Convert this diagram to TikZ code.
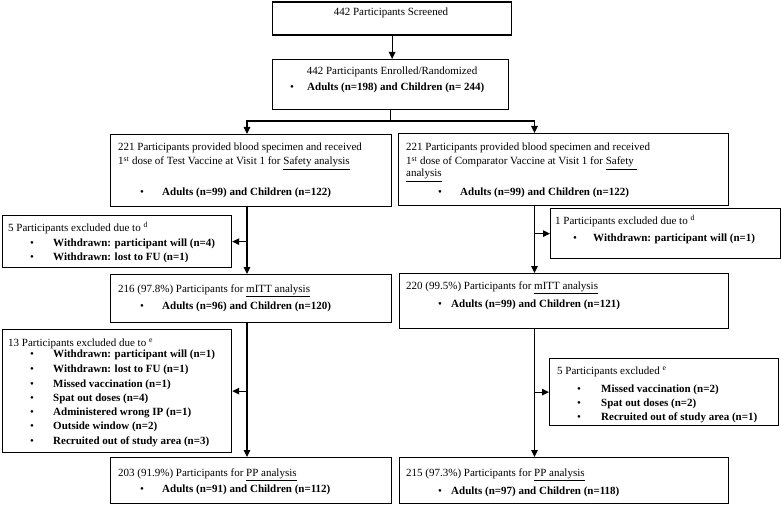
\documentclass[tikz,border=0pt]{standalone}
\usepackage{fontspec}
\setmainfont{Liberation Serif}
\usetikzlibrary{arrows.meta}
\newcommand\bu[2]{\makebox[#1][l]{\textbullet}\textbf{#2}}
\begin{document}
\begin{tikzpicture}[x=1pt,y=-1pt,
 box/.style={draw, line width=1.2pt, anchor=north west, inner sep=0pt},
 txt/.style={anchor=base west, inner sep=0pt, font=\fontsize{11}{13}\selectfont},
 ctxt/.style={txt, anchor=base},
 ln/.style={line width=1.2pt},
 arr/.style={line width=1.2pt, -{Triangle[length=7pt,width=6.5pt]}}]
\useasboundingbox (0,0) rectangle (781,505);
% top
\node[box,minimum width=239pt,minimum height=33pt] (b1) at (272,1.5) {};
\node[ctxt] (t1) at (391,16) {442 Participants Screened};
\node[box,minimum width=236pt,minimum height=50pt] (b2) at (272,59) {};
\node[ctxt] (t2a) at (392,75) {442 Participants Enrolled/Randomized};
\node[txt] (t2b) at (290,91) {\bu{17pt}{Adults (n=198) and Children (n= 244)}};
% left safety
\node[box,minimum width=281pt,minimum height=72pt] (b3) at (110,134) {};
\node[txt] (t3a) at (118,151) {221 Participants provided blood specimen and received};
\node[txt] (t3b) at (118,165) {1\textsuperscript{st} dose of Test Vaccine at Visit 1 for \underline{Safety analysis}};
\node[txt] (t3c) at (140,196) {\bu{22pt}{Adults (n=99) and Children (n=122)}};
% left exclusion 1
\node[box,minimum width=229pt,minimum height=52pt] (b4) at (2,215) {};
\node[txt] (t4a) at (8,231) {5 Participants excluded due to \textsuperscript{d}};
\node[txt] (t4b) at (30,246.5) {\bu{23pt}{Withdrawn: participant will (n=4)}};
\node[txt] (t4c) at (30,260.5) {\bu{23pt}{Withdrawn: lost to FU (n=1)}};
% right safety
\node[box,minimum width=330pt,minimum height=72pt] (b5) at (398,133) {};
\node[txt] (t5a) at (406,151) {221 Participants provided blood specimen and received};
\node[txt] (t5b) at (406,165) {1\textsuperscript{st} dose of Comparator Vaccine at Visit 1 for \underline{Safety\ }};
\node[txt] (t5c) at (406,177) {\underline{analysis}};
\node[txt] (t5d) at (438,195.5) {\bu{22pt}{Adults (n=99) and Children (n=122)}};
% right exclusion 1
\node[box,minimum width=230pt,minimum height=50pt] (b6) at (550,208) {};
\node[txt] (t6a) at (555,224) {1 Participants excluded due to \textsuperscript{d}};
\node[txt] (t6b) at (573,241) {\bu{20pt}{Withdrawn: participant will (n=1)}};
% left mITT
\node[box,minimum width=281pt,minimum height=48pt] (b7) at (110,274) {};
\node[txt] (t7a) at (118,292) {216 (97.8\%) Participants for \underline{mITT analysis}};
\node[txt] (t7b) at (140,309) {\bu{22pt}{Adults (n=96) and Children (n=120)}};
% left exclusion 2
\node[box,minimum width=229pt,minimum height=123pt] (b8) at (2,329) {};
\node[txt] (t8a) at (8,346) {13 Participants excluded due to \textsuperscript{e}};
\node[txt] (t8b) at (30,357) {\bu{23pt}{Withdrawn: participant will (n=1)}};
\node[txt] (t8c) at (30,372) {\bu{23pt}{Withdrawn: lost to FU (n=1)}};
\node[txt] (t8d) at (30,387) {\bu{23pt}{Missed vaccination (n=1)}};
\node[txt] (t8e) at (30,401.5) {\bu{23pt}{Spat out doses (n=4)}};
\node[txt] (t8f) at (30,415.5) {\bu{23pt}{Administered wrong IP (n=1)}};
\node[txt] (t8g) at (30,429.5) {\bu{23pt}{Outside window (n=2)}};
\node[txt] (t8h) at (30,444) {\bu{23pt}{Recruited out of study area (n=3)}};
% left PP
\node[box,minimum width=281pt,minimum height=46pt] (b9) at (110,457) {};
\node[txt] (t9a) at (118,476) {203 (91.9\%) Participants for \underline{PP analysis}};
\node[txt] (t9b) at (140,492) {\bu{22pt}{Adults (n=91) and Children (n=112)}};
% right mITT
\node[box,minimum width=329pt,minimum height=55pt] (b10) at (399,273) {};
\node[txt] (t10a) at (406,289) {220 (99.5\%) Participants for \underline{mITT analysis}};
\node[txt] (t10b) at (438,307) {\bu{13pt}{Adults (n=99) and Children (n=121)}};
% right exclusion 2
\node[box,minimum width=229pt,minimum height=67pt] (b11) at (549,358) {};
\node[txt] (t11a) at (557,374) {5 Participants excluded \textsuperscript{e}};
\node[txt] (t11b) at (577,392) {\bu{24pt}{Missed vaccination (n=2)}};
\node[txt] (t11c) at (577,406.5) {\bu{24pt}{Spat out doses (n=2)}};
\node[txt] (t11d) at (577,420.5) {\bu{24pt}{Recruited out of study area (n=1)}};
% right PP
\node[box,minimum width=329pt,minimum height=46pt] (b12) at (399,457) {};
\node[txt] (t12a) at (406,476) {215 (97.3\%) Participants for \underline{PP analysis}};
\node[txt] (t12b) at (438,494) {\bu{13pt}{Adults (n=97) and Children (n=118)}};
% connectors
\coordinate (lx) at (247,0);
\coordinate (rx) at (534.5,0);
\coordinate (sy) at (0,121);
\draw[arr] (b1.south) -- (b1.south |- b2.north);
\draw[ln] (b2.south) -- (b2.south |- sy);
\draw[arr] (b2.south |- sy) -| (lx |- b3.north);
\draw[arr] (b2.south |- sy) -| (rx |- b5.north);
\draw[arr] (lx |- b3.south) -- (lx |- b7.north);
\draw[arr] (lx |- b4.east) -- (b4.east);
\draw[arr] (lx |- b7.south) -- (lx |- b9.north);
\draw[arr] (lx |- b8.east) -- (b8.east);
\draw[arr] (rx |- b5.south) -- (rx |- b10.north);
\draw[arr] (rx |- b6.west) -- (b6.west);
\draw[arr] (rx |- b10.south) -- (rx |- b12.north);
\draw[arr] (rx |- b11.west) -- (b11.west);
\end{tikzpicture}
\end{document}
